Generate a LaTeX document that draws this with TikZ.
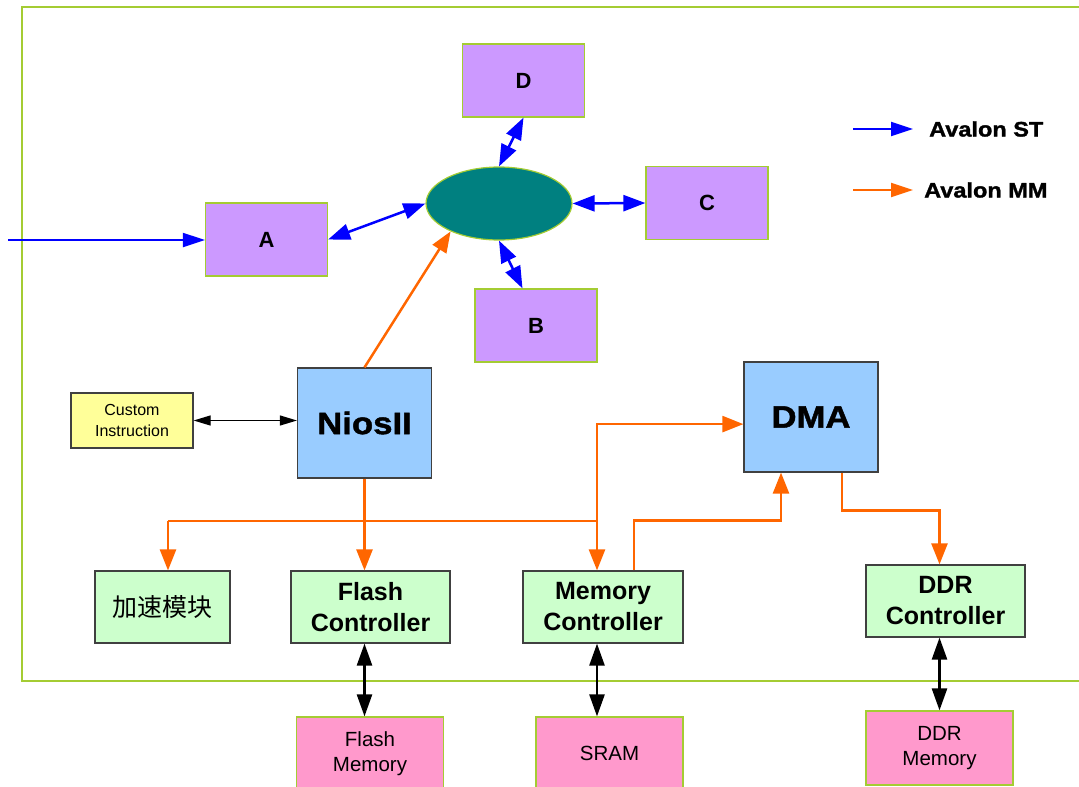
\documentclass[tikz,border=0pt]{standalone}
\usepackage{fontspec}
\setmainfont{Liberation Sans}
\newfontfamily\cjk{Noto Sans CJK SC}
\newfontfamily\heavyfont[FakeStretch=1.12,FakeBold=1.5]{Liberation Sans Bold}
\usetikzlibrary{arrows.meta,shapes.geometric}

\definecolor{leaf}{HTML}{A4CC33}
\definecolor{lilac}{HTML}{CC99FF}
\definecolor{sky}{HTML}{99CCFF}
\definecolor{mint}{HTML}{CCFFCC}
\definecolor{rose}{HTML}{FF99CC}
\definecolor{cream}{HTML}{FFFF99}
\definecolor{busteal}{HTML}{008080}
\definecolor{stblue}{HTML}{0000FF}
\definecolor{mmorange}{HTML}{FF6600}
\definecolor{edge}{HTML}{404040}

\begin{document}
\begin{tikzpicture}[x=1pt, y=-1pt,
    slave/.style={rectangle, draw=leaf, fill=lilac, line width=1.2pt, inner sep=0pt,
                  minimum width=122pt, minimum height=73pt, font=\fontsize{22}{26}\selectfont\bfseries},
    cpu/.style={rectangle, draw=edge, fill=sky, line width=1.2pt, inner sep=0pt,
                minimum width=134pt, minimum height=110pt, font=\fontsize{31}{36}\selectfont\heavyfont},
    ctrl/.style={rectangle, draw=edge, fill=mint, line width=1.2pt, inner sep=0pt, align=center,
                 minimum height=72pt, font=\fontsize{25}{31}\selectfont\bfseries},
    mem/.style={rectangle, draw=leaf, fill=rose, line width=1.2pt, inner sep=0pt, align=center,
                minimum width=147pt, minimum height=73pt, font=\fontsize{20.5}{25}\selectfont},
    st/.style={draw=stblue, line width=2.5pt, >={Triangle[length=22pt,width=16pt]}},
    mm/.style={draw=mmorange, line width=2.5pt, >={Triangle[length=21pt,width=16pt]}},
    pin/.style={draw=black, line width=2.5pt, >={Triangle[length=22pt,width=15pt]}},
    legend/.style={anchor=west, inner sep=0pt, font=\fontsize{21}{24}\selectfont\heavyfont}]
    \useasboundingbox (0,0) rectangle (1079,787);

    % FPGA border
    \draw[leaf, line width=1.2pt] (1090,7) -- (22,7) -- (22,681) -- (1090,681);

    % Avalon ST slaves around the switch
    \node[ellipse, draw=leaf, fill=busteal, line width=1.2pt, inner sep=0pt,
          minimum width=146pt, minimum height=73pt] (bus) at (499,203.5) {};
    \node[slave] (D) at (523.5,80.5) {D};
    \node[slave] (A) at (266.5,239.5) {A};
    \node[slave] (C) at (707,203) {C};
    \node[slave] (B) at (536,325.5) {B};

    % Processors
    \node[cpu] (nios) at (364.5,423) {NiosII};
    \node[cpu] (dma) at (811,417) {DMA};
    \node[rectangle, draw=edge, fill=cream, line width=1.2pt, inner sep=0pt, align=center,
          minimum width=122pt, minimum height=55pt, font=\fontsize{16}{21}\selectfont]
          (custom) at (132,420.5) {Custom\\Instruction};

    % Controllers
    \node[ctrl, minimum width=135pt, font=\fontsize{25}{31}\selectfont\cjk] (accel) at (162.5,607) {加速模块};
    \node[ctrl, minimum width=159pt] (flashctl) at (370.5,607) {Flash\\Controller};
    \node[ctrl, minimum width=160pt] (memctl) at (603,607) {Memory\\Controller};
    \node[ctrl, minimum width=159pt] (ddrctl) at (945.5,601) {DDR\\Controller};

    % External memories
    \node[mem] (flashmem) at (370,753.5) {Flash\\Memory};
    \node[mem] (sram) at (609.5,753.5) {SRAM};
    \node[mem, minimum width=147pt, minimum height=74pt] (ddrmem) at (939.5,748) {DDR\\Memory};

    % Legend
    \node[legend] (stlbl) at (929,129) {Avalon ST};
    \node[legend] (mmlbl) at (924,190) {Avalon MM};
    \coordinate (st0) at (853,129);
    \coordinate (mm0) at (853,190);
    \draw[st, line width=2pt, >={Triangle[length=22pt,width=14pt]}, ->] (st0) -- ([xshift=-16pt]stlbl.west);
    \draw[mm, line width=2pt, >={Triangle[length=22pt,width=14pt]}, ->] (mm0) -- ([xshift=-11pt]mmlbl.west);

    % Avalon ST links
    \coordinate (stin) at (8,240);
    \draw[st, line width=2pt, >={Triangle[length=22pt,width=14pt]}, ->] (stin) -- (stin -| A.west);
    \draw[st, <->] (A.east) -- (bus.west);
    \draw[st, <->] (bus.north) -- (D.south);
    \draw[st, <->] (bus.east) -- (C.west);
    \draw[st, <->] (bus.south) -- (B.110);

    % Avalon MM links
    \draw[mm, ->] (nios.north) -- (bus.-150);
    \draw[draw=black, line width=1.2pt, >={Triangle[length=17pt,width=10pt]}, <->]
        (custom.east) -- (custom.east -| nios.west);
    \coordinate (bl) at (168,521);
    \coordinate (br) at (597,521);
    \draw[mm] (bl) -- (br);
    \draw[mm, ->] (bl) -- (bl |- accel.north);
    \draw[mm, ->] (nios.south) -- (nios.south |- flashctl.north);
    \draw[mm, ->] (br) -- (br |- memctl.north);
    \draw[mm, ->] (br) |- (dma.186);
    \draw[mm, ->] ([xshift=31pt]memctl.north) -- ++(0,-50) -| ([xshift=-30pt]dma.south);
    \draw[mm, ->] ([xshift=31pt]dma.south) -- ++(0,38) -| ([xshift=-6pt]ddrctl.north);

    % Memory pins
    \draw[pin, <->] ([xshift=-6pt]flashctl.south) -- ([xshift=-6pt]flashctl.south |- flashmem.north);
    \draw[pin, <->] ([xshift=-6pt]memctl.south) -- ([xshift=-6pt]memctl.south |- sram.north);
    \draw[pin, <->] (ddrmem.north |- ddrctl.south) -- (ddrmem.north);
\end{tikzpicture}
\end{document}
